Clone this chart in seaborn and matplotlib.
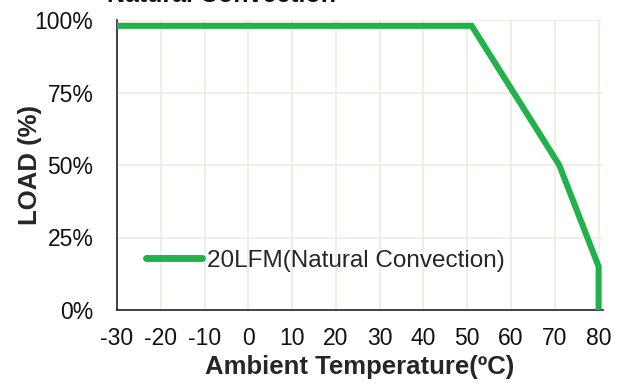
import matplotlib
matplotlib.use("Agg")
import matplotlib.pyplot as plt
import seaborn as sns
import pandas as pd

# data
temps = [-30, 51, 71, 80, 80]
loads = [98, 98, 50, 15, 0]
series_name = "20LFM(Natural Convection)"
x_ticks = [-30, -20, -10, 0, 10, 20, 30, 40, 50, 60, 70, 80]
y_ticks = [0, 25, 50, 75, 100]
y_tick_labels = ["0%", "25%", "50%", "75%", "100%"]
title = "Natural Convection"

sns.set_style("white")
plt.rcParams['font.family'] = ['Liberation Sans', 'DejaVu Sans']

df = pd.DataFrame({"temp": temps, "load": loads, "series": series_name})

fig = plt.figure(figsize=(6.27, 3.85), dpi=100)
ax = fig.add_axes([117/627, 1-310/385, (603-117)/627, (310-20)/385])

sns.lineplot(data=df, x="temp", y="load", hue="series", palette=["#22B24C"],
             sort=False, estimator=None, linewidth=4.4, ax=ax,
             solid_capstyle="butt", solid_joinstyle="miter", clip_on=False, zorder=5)

ax.set_xlim(-30, 81)
ax.set_ylim(0, 100)
ax.set_xticks(x_ticks)
ax.set_xticklabels([str(t) for t in x_ticks], fontsize=16.5)
ax.set_yticks(y_ticks)
ax.set_yticklabels(y_tick_labels, fontsize=16.5)
ax.grid(True, color="#EFEBE0", linewidth=1.2)
ax.set_axisbelow(True)
for s in ["top", "right"]:
    ax.spines[s].set_visible(False)
for s in ["left", "bottom"]:
    ax.spines[s].set_color("#222222")
    ax.spines[s].set_linewidth(1.2)
ax.tick_params(axis="both", direction="in", length=5, width=1.2, color="#222222",
               labelcolor="#111111")
ax.tick_params(axis="x", pad=12)
ax.tick_params(axis="y", pad=17)
ax.set_xlabel("Ambient Temperature(ºC)", fontsize=18.5, fontweight="bold", labelpad=4)
ax.set_ylabel("LOAD (%)", fontsize=18.5, fontweight="bold")
ax.yaxis.set_label_coords((42 - 117) / 486, 0.5)

leg = ax.legend(loc="center left", bbox_to_anchor=(0.06, 0.17), frameon=False,
                fontsize=17.5, handlelength=2.3, handletextpad=0.2, borderaxespad=0,
                borderpad=0)
for line in leg.get_lines():
    line.set_linewidth(5)
    line.set_solid_capstyle("round")

fig.text(107/627, 1 - 2/385, title, fontsize=18, fontweight="bold",
         ha="left", va="baseline", color="#111111")

fig.savefig("out.png", dpi=100)
